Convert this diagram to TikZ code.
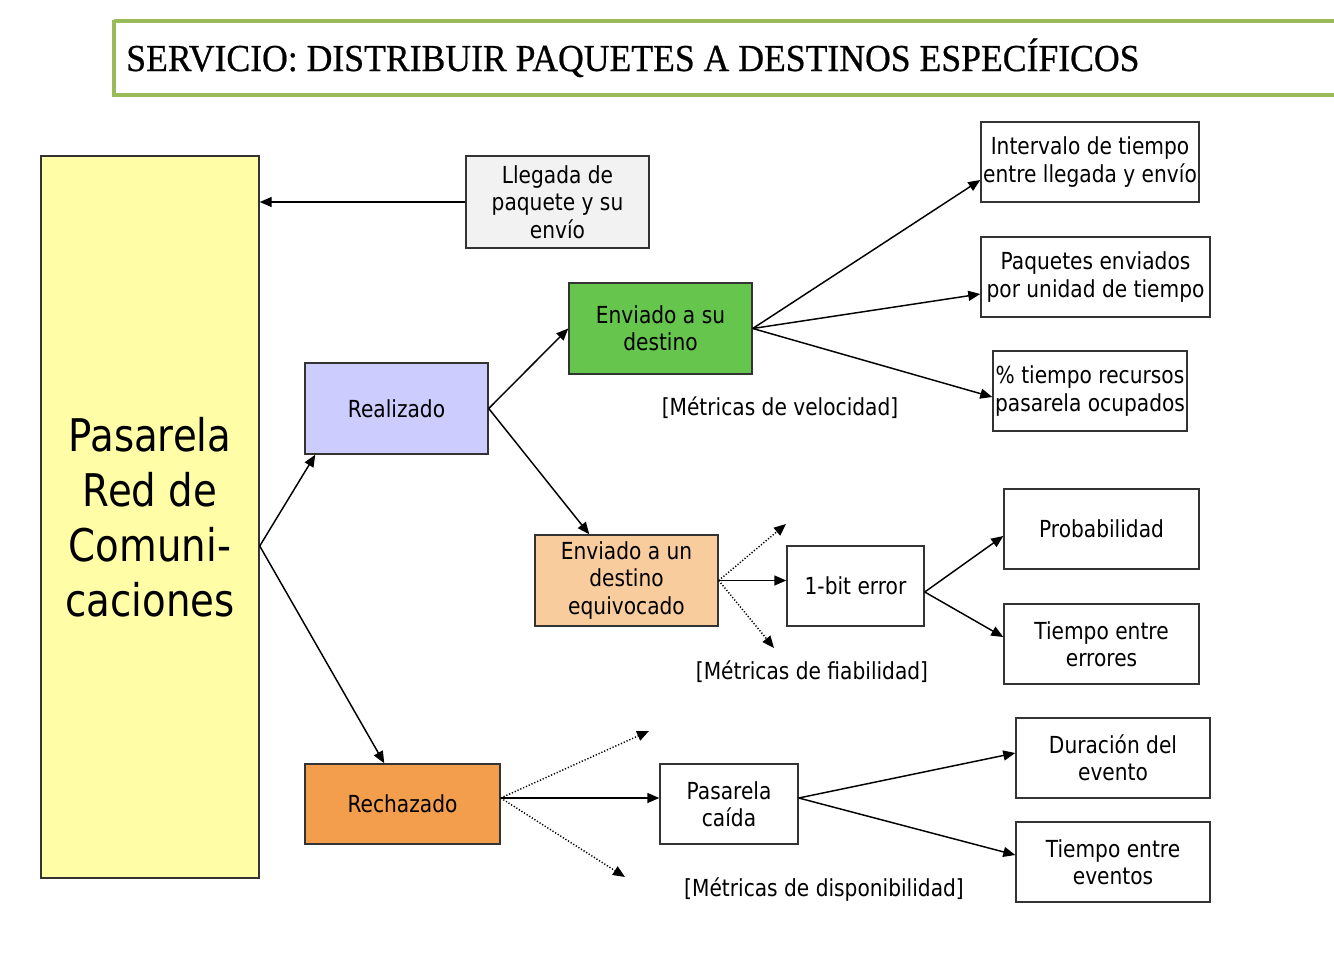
\documentclass[tikz,border=0pt]{standalone}
\usepackage{fontspec}
\setmainfont{DejaVu Sans}[FakeStretch=0.86]
\newfontfamily\titlefont{Liberation Serif}[FakeBold=0.6]
\usetikzlibrary{arrows.meta,calc}
\definecolor{framegreen}{HTML}{9BBB59}
\definecolor{bigyellow}{HTML}{FFFDA6}
\definecolor{realblue}{HTML}{CCCCFF}
\definecolor{sentgreen}{HTML}{66C54D}
\definecolor{wrongorange}{HTML}{F9CC9D}
\definecolor{rejorange}{HTML}{F29E4C}
\definecolor{arrgray}{HTML}{F2F2F2}
\definecolor{edge}{HTML}{333333}
\tikzset{
  wh/.style 2 args={minimum width=#1*0.75pt, minimum height=#2*0.75pt},
  box/.style={draw=edge, line width=1.1pt, inner sep=0pt, align=center,
    font=\fontsize{17.6pt}{20.6pt}\selectfont},
  lbl/.style={inner sep=0pt, font=\fontsize{17.6pt}{20.6pt}\selectfont},
  arr/.style={line width=1.1pt, -{Triangle[length=9pt,width=7.5pt]}},
  dotarr/.style={line width=1.1pt, dash pattern=on 0.9pt off 1.4pt, -{Triangle[length=9pt,width=7.5pt]}}
}
\begin{document}
\begin{tikzpicture}[x=0.75pt,y=-0.75pt]
\useasboundingbox (0,0) rectangle (1334,960);
% title
\draw[framegreen, line width=3pt] (113.5,21) -- (1345,21) (113.5,95) -- (1345,95) (113.5,19.5) -- (113.5,96.5);
\node[anchor=base west, inner sep=0pt] (title) at (126,71)
  {\resizebox{760pt}{1.2\height}{\titlefont\fontsize{23.8pt}{28pt}\selectfont SERVICIO: DISTRIBUIR PAQUETES A DESTINOS ESPECÍFICOS}};
% boxes
\node[box, fill=bigyellow, wh={218}{722}, font=\fontsize{33.75pt}{41.25pt}\selectfont] (big) at (150,517) {Pasarela\\Red de\\Comuni-\\caciones};
\node[box, fill=arrgray, wh={183}{92}] (llegada) at (557.5,202) {Llegada de\\paquete y su\\envío};
\node[box, fill=realblue, wh={183}{91}] (realizado) at (396.5,408.5) {Realizado};
\node[box, fill=sentgreen, wh={183}{91}] (enviado) at (660.5,328.5) {Enviado a su\\destino};
\node[box, fill=wrongorange, wh={183}{91}] (equivocado) at (626.5,580.5) {Enviado a un\\destino\\equivocado};
\node[box, fill=rejorange, wh={195}{80}] (rechazado) at (402.5,804) {Rechazado};
\node[box, wh={218}{80}] (intervalo) at (1090,162) {Intervalo de tiempo\\entre llegada y envío};
\node[box, wh={229}{80}] (paquetes) at (1095.5,277) {Paquetes enviados\\por unidad de tiempo};
\node[box, wh={194}{80}] (ptiempo) at (1090,391) {\% tiempo recursos\\pasarela ocupados};
\node[box, wh={137}{80}] (bit) at (855.5,586) {1-bit error};
\node[box, wh={195}{80}] (prob) at (1101.5,529) {Probabilidad};
\node[box, wh={195}{80}] (terr) at (1101.5,644) {Tiempo entre\\errores};
\node[box, wh={138}{80}] (caida) at (729,804) {Pasarela\\caída};
\node[box, wh={194}{80}] (duracion) at (1113,758) {Duración del\\evento};
\node[box, wh={194}{80}] (tevent) at (1113,862) {Tiempo entre\\eventos};
% labels
\node[lbl] (lvel) at (780,408) {[Métricas de velocidad]};
\node[lbl] (lfia) at (812,672) {[Métricas de fiabilidad]};
\node[lbl] (ldis) at (824,890) {[Métricas de disponibilidad]};
% free ends of dotted arrows
\coordinate (d1) at (786,524);
\coordinate (d2) at (774,648);
\coordinate (d3) at (649,731);
\coordinate (d4) at (625,877);
% connectors
\draw[arr] (llegada.west) -- (llegada.west -| big.east);
\coordinate (bigout) at ($(big.east)+(0,29)$);
\draw[arr] (bigout) -- ($(realizado.south west)+(11,0)$);
\draw[arr] (bigout) -- ($(rechazado.north west)+(80,0)$);
\draw[arr] (realizado.east) -- (enviado.west);
\draw[arr] (realizado.east) -- ($(equivocado.north west)+(55,0)$);
\draw[arr] (enviado.east) -- ($(intervalo.west)+(0,18)$);
\draw[arr] (enviado.east) -- ($(paquetes.west)+(0,17)$);
\draw[arr] (enviado.east) -- ($(ptiempo.west)+(0,6)$);
\draw[arr] (equivocado.east) -- (equivocado.east -| bit.west);
\draw[dotarr] (equivocado.east) -- (d1);
\draw[dotarr] (equivocado.east) -- (d2);
\draw[arr] ($(bit.east)+(0,6)$) -- ($(prob.west)+(0,7)$);
\draw[arr] ($(bit.east)+(0,6)$) -- ($(terr.west)+(0,-7)$);
\coordinate (rout) at ($(rechazado.east)+(0,-6)$);
\draw[arr] (rout) -- (rout -| caida.west);
\draw[dotarr] (rout) -- (d3);
\draw[dotarr] (rout) -- (d4);
\coordinate (cout) at ($(caida.east)+(0,-6)$);
\draw[arr] (cout) -- ($(duracion.west)+(0,-5)$);
\draw[arr] (cout) -- ($(tevent.west)+(0,-7)$);
\end{tikzpicture}
\end{document}
